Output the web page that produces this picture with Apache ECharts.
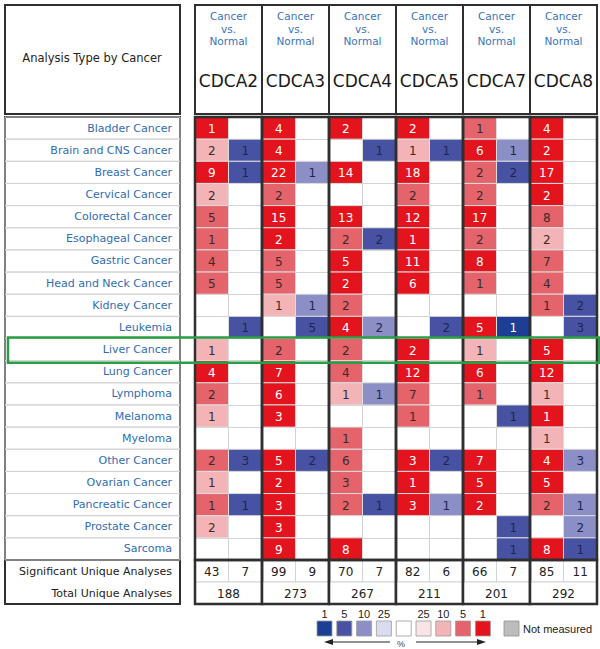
<!DOCTYPE html>
<html>
<head>
<meta charset="utf-8">
<script src="https://cdn.jsdelivr.net/npm/echarts@6/dist/echarts.min.js"></script>
<style>
html,body{margin:0;padding:0;background:#fff}
#chart{width:600px;height:649px}
</style>
</head>
<body>
<div id="chart"></div>
<script>
// rows and genes
const cancers = ['Bladder Cancer','Brain and CNS Cancer','Breast Cancer','Cervical Cancer','Colorectal Cancer',
    'Esophageal Cancer','Gastric Cancer','Head and Neck Cancer','Kidney Cancer','Leukemia','Liver Cancer',
    'Lung Cancer','Lymphoma','Melanoma','Myeloma','Other Cancer','Ovarian Cancer','Pancreatic Cancer',
    'Prostate Cancer','Sarcoma'];
const genes = ['CDCA2','CDCA3','CDCA4','CDCA5','CDCA7','CDCA8'];
const highlightRow = 'Liver Cancer';

// counts of analyses (up = over-expressed, down = under-expressed) and their gene rank percentile (1,5,10,25)
const cdca2Up      = [1,2,9,2,5,1,4,5,null,null,1,4,2,1,null,2,1,1,2,null];
const cdca2UpPct   = [1,10,1,10,5,5,5,5,null,null,10,1,5,10,null,5,10,5,10,null];
const cdca2Down    = [null,1,1,null,null,null,null,null,null,1,null,null,null,null,null,3,null,1,null,null];
const cdca2DownPct = [null,5,5,null,null,null,null,null,null,5,null,null,null,null,null,5,null,5,null,null];

const cdca3Up      = [4,4,22,2,15,2,5,5,1,null,2,7,6,3,null,5,2,3,3,9];
const cdca3UpPct   = [1,1,1,5,1,1,5,5,10,null,5,1,1,1,null,1,1,1,1,1];
const cdca3Down    = [null,null,1,null,null,null,null,null,1,5,null,null,null,null,null,2,null,null,null,null];
const cdca3DownPct = [null,null,10,null,null,null,null,null,10,5,null,null,null,null,null,5,null,null,null,null];

const cdca4Up      = [2,null,14,null,13,2,5,2,2,4,2,4,1,null,1,6,3,2,null,8];
const cdca4UpPct   = [1,null,1,null,1,5,1,1,5,1,5,5,10,null,5,5,5,5,null,1];
const cdca4Down    = [null,1,null,null,null,2,null,null,null,2,null,null,1,null,null,null,null,1,null,null];
const cdca4DownPct = [null,5,null,null,null,5,null,null,null,10,null,null,10,null,null,null,null,5,null,null];

const cdca5Up      = [2,1,18,2,12,1,11,6,null,null,2,12,7,1,null,3,1,3,null,null];
const cdca5UpPct   = [1,10,1,5,1,1,1,1,null,null,1,1,5,5,null,1,1,1,null,null];
const cdca5Down    = [null,1,null,null,null,null,null,null,null,2,null,null,null,null,null,2,null,1,null,null];
const cdca5DownPct = [null,5,null,null,null,null,null,null,null,5,null,null,null,null,null,5,null,10,null,null];

const cdca7Up      = [1,6,2,2,17,2,8,1,null,5,1,6,1,null,null,7,5,2,null,null];
const cdca7UpPct   = [5,1,5,5,1,5,1,5,null,1,10,1,5,null,null,1,1,1,null,null];
const cdca7Down    = [null,1,2,null,null,null,null,null,null,1,null,null,null,1,null,null,null,null,1,1];
const cdca7DownPct = [null,10,5,null,null,null,null,null,null,1,null,null,null,5,null,null,null,null,5,5];

const cdca8Up      = [4,2,17,2,8,2,7,4,1,null,5,12,1,1,1,4,5,2,null,8];
const cdca8UpPct   = [1,1,1,1,5,10,5,5,5,null,1,1,10,1,10,1,1,5,null,1];
const cdca8Down    = [null,null,null,null,null,null,null,null,2,3,null,null,null,null,null,3,null,1,2,1];
const cdca8DownPct = [null,null,null,null,null,null,null,null,5,5,null,null,null,null,null,10,null,10,10,5];

// summary rows
const summaryLabels = ['Significant Unique Analyses','Total Unique Analyses'];
const sigUp = [43,99,70,82,66,85];
const sigDown = [7,9,7,6,7,11];
const totalAnalyses = [188,273,267,211,201,292];

// legend
const legendBluePct = [1,5,10,25];
const legendRedPct = [25,10,5,1];

const upCounts = [cdca2Up,cdca3Up,cdca4Up,cdca5Up,cdca7Up,cdca8Up];
const upPcts = [cdca2UpPct,cdca3UpPct,cdca4UpPct,cdca5UpPct,cdca7UpPct,cdca8UpPct];
const downCounts = [cdca2Down,cdca3Down,cdca4Down,cdca5Down,cdca7Down,cdca8Down];
const downPcts = [cdca2DownPct,cdca3DownPct,cdca4DownPct,cdca5DownPct,cdca7DownPct,cdca8DownPct];

const redShades = {1:'#e3141d', 5:'#e5636a', 10:'#f3b4b8', 25:'#fbe4e5'};
const blueShades = {1:'#1c3f95', 5:'#4753a2', 10:'#8b8fc6', 25:'#d9dcef'};
const FONT = '"DejaVu Sans", Verdana, sans-serif';
const LEGEND_FONT = '"Liberation Sans", Arial, sans-serif';
const FRAME = '#2f2f2f';
const THIN = '#d3d3d3';

const subCols = [];
genes.forEach(g => { subCols.push(g + ' up'); subCols.push(g + ' down'); });

// heat cells
let cellData = [];
genes.forEach((g, gi) => {
    cancers.forEach((c, r) => {
        if (upCounts[gi][r] != null) cellData.push([2*gi, r, upCounts[gi][r], upPcts[gi][r]]);
        if (downCounts[gi][r] != null) cellData.push([2*gi+1, r, downCounts[gi][r], downPcts[gi][r]]);
    });
});

let sigData = [];
genes.forEach((g, gi) => {
    sigData.push([2*gi, 0, sigUp[gi]]);
    sigData.push([2*gi+1, 0, sigDown[gi]]);
});
let totalData = genes.map((g, gi) => [2*gi, 1, totalAnalyses[gi]]);

function cellRender(params, api){
    let col = api.value(0), row = api.value(1), count = api.value(2), pct = api.value(3);
    let c = api.coord([col, row]);
    let s = api.size([1, 1]);
    let isUp = col % 2 === 0;
    let fill = (isUp ? redShades : blueShades)[pct];
    let txt = pct === 1 ? '#ffffff' : (isUp ? '#3a2a2a' : '#1d2550');
    return {
        type: 'group',
        children: [
            {type:'rect', shape:{x:c[0]-s[0]/2, y:c[1]-s[1]/2, width:s[0], height:s[1]},
             style:{fill:fill, stroke:'#dcdcdc', lineWidth:1}},
            {type:'text', x:c[0], y:c[1]+1,
             style:{text:String(count), fill:txt, font:'12px ' + FONT, align:'center', verticalAlign:'middle'}}
        ]
    };
}

function geneFrameRender(params, api){
    let gi = params.dataIndex;
    let a = api.coord([2*gi, 0]);
    let s = api.size([1, 1]);
    let cs = params.coordSys;
    let left = a[0] - s[0]/2, w = 2*s[0], cx = left + w/2;
    let top = cs.y;
    return {
        type: 'group',
        children: [
            {type:'rect', shape:{x:left, y:5, width:w, height:top-8}, style:{fill:'none', stroke:FRAME, lineWidth:2}},
            {type:'rect', shape:{x:left, y:top, width:w, height:cs.height}, style:{fill:'none', stroke:FRAME, lineWidth:2.5}},
            {type:'text', x:cx, y:top-88.5, style:{text:'Cancer\nvs.\nNormal', fill:'#3a73bb', font:'10.5px ' + FONT,
                lineHeight:12.5, align:'center', verticalAlign:'middle'}},
            {type:'text', x:cx, y:top-36, style:{text:genes[gi], fill:'#1a1a1a', font:'17px ' + FONT, align:'center', verticalAlign:'middle'}}
        ]
    };
}

function labelRowRender(params, api){
    let c = api.coord([0, api.value(1)]);
    let s = api.size([1, 1]);
    let cs = params.coordSys;
    return {type:'rect', shape:{x:cs.x-190, y:c[1]-s[1]/2, width:175, height:s[1]},
            style:{fill:'none', stroke:THIN, lineWidth:1}};
}

function highlightRender(params, api){
    let c = api.coord([0, api.value(1)]);
    let s = api.size([1, 1]);
    let cs = params.coordSys;
    return {type:'rect', shape:{x:cs.x-187, y:c[1]-s[1]/2-1, width:cs.width+189, height:s[1]+3},
            style:{fill:'none', stroke:'#2a9d45', lineWidth:2.5}};
}

function sigRender(params, api){
    let c = api.coord([api.value(0), api.value(1)]);
    let s = api.size([1, 1]);
    return {
        type:'group',
        children:[
            {type:'rect', shape:{x:c[0]-s[0]/2, y:c[1]-s[1]/2, width:s[0], height:s[1]}, style:{fill:'#fff', stroke:THIN, lineWidth:1}},
            {type:'text', x:c[0], y:c[1]+1, style:{text:String(api.value(2)), fill:'#222', font:'12px ' + FONT, align:'center', verticalAlign:'middle'}}
        ]
    };
}

function totalRender(params, api){
    let c = api.coord([api.value(0), api.value(1)]);
    let s = api.size([1, 1]);
    let left = c[0] - s[0]/2;
    return {
        type:'group',
        children:[
            {type:'rect', shape:{x:left, y:c[1]-s[1]/2, width:2*s[0], height:s[1]}, style:{fill:'#fff', stroke:THIN, lineWidth:1}},
            {type:'rect', shape:{x:left, y:c[1]-s[1]*1.5, width:2*s[0], height:2*s[1]}, style:{fill:'none', stroke:FRAME, lineWidth:2.5}},
            {type:'text', x:left+s[0], y:c[1]+1, style:{text:String(api.value(2)), fill:'#222', font:'12px ' + FONT, align:'center', verticalAlign:'middle'}}
        ]
    };
}

// legend graphic
let legendEls = [];
let legendCols = legendBluePct.map(p => ({lab:String(p), col:blueShades[p]}))
    .concat([{lab:'', col:'#ffffff'}])
    .concat(legendRedPct.map(p => ({lab:String(p), col:redShades[p]})));
legendCols.forEach((d, i) => {
    let x = 317 + i*19.8;
    legendEls.push({type:'rect', shape:{x:x, y:621, width:15, height:15}, style:{fill:d.col, stroke:'#9a9a9a', lineWidth:0.8}});
    legendEls.push({type:'text', x:x+7.5, y:614, style:{text:d.lab, fill:'#222', font:'11px ' + LEGEND_FONT, align:'center', verticalAlign:'middle'}});
});
legendEls.push({type:'rect', shape:{x:504, y:621, width:15, height:15}, style:{fill:'#bcbcbc', stroke:'#8f8f8f', lineWidth:0.8}});
legendEls.push({type:'text', x:523, y:629, style:{text:'Not measured', fill:'#222', font:'11px ' + LEGEND_FONT, align:'left', verticalAlign:'middle'}});
legendEls.push({type:'line', shape:{x1:332, y1:642, x2:390, y2:642}, style:{stroke:'#222', lineWidth:1}});
legendEls.push({type:'polygon', shape:{points:[[324,642],[333,639],[333,645]]}, style:{fill:'#222'}});
legendEls.push({type:'text', x:401, y:644, style:{text:'%', fill:'#444', font:'9px ' + LEGEND_FONT, align:'center', verticalAlign:'middle'}});
legendEls.push({type:'line', shape:{x1:416, y1:642, x2:478, y2:642}, style:{stroke:'#222', lineWidth:1}});
legendEls.push({type:'polygon', shape:{points:[[486,642],[477,639],[477,645]]}, style:{fill:'#222'}});

const chart = echarts.init(document.getElementById('chart'), null, {renderer:'svg'});
const option = {
    animation: false,
    backgroundColor: '#ffffff',
    grid: [
        {left:195, top:117, width:402, height:443},
        {left:195, top:560, width:402, height:44}
    ],
    xAxis: [
        {gridIndex:0, type:'category', data:subCols, axisLine:{show:false}, axisTick:{show:false}, axisLabel:{show:false},
         splitLine:{show:true, interval:0, lineStyle:{color:THIN, width:1}}},
        {gridIndex:1, type:'category', data:subCols, show:false}
    ],
    yAxis: [
        {gridIndex:0, type:'category', data:cancers, inverse:true, axisLine:{show:false}, axisTick:{show:false},
         axisLabel:{interval:0, margin:23, color:'#2f6cb3', fontSize:11, fontFamily:FONT},
         splitLine:{show:true, interval:0, lineStyle:{color:THIN, width:1}}},
        {gridIndex:1, type:'category', data:summaryLabels, inverse:true, axisLine:{show:false}, axisTick:{show:false},
         axisLabel:{interval:0, margin:23, color:'#222', fontSize:11, fontFamily:FONT}}
    ],
    graphic: [
        {type:'rect', shape:{x:5, y:5, width:175, height:109}, style:{fill:'none', stroke:FRAME, lineWidth:2}},
        {type:'text', x:92, y:58, style:{text:'Analysis Type by Cancer', fill:'#222', font:'11.5px ' + FONT, align:'center', verticalAlign:'middle'}},
        {type:'rect', shape:{x:5, y:117, width:175, height:443}, style:{fill:'none', stroke:FRAME, lineWidth:2}},
        {type:'rect', shape:{x:5, y:560, width:175, height:44}, style:{fill:'none', stroke:FRAME, lineWidth:2}},
        {type:'group', children: legendEls}
    ],
    series: [
        {type:'custom', name:'rows', xAxisIndex:0, yAxisIndex:0, renderItem:labelRowRender, clip:false, silent:true,
         encode:{x:0, y:1}, data:cancers.map((c, i) => [0, i]), z:1},
        {type:'custom', name:'cells', xAxisIndex:0, yAxisIndex:0, renderItem:cellRender, silent:true,
         encode:{x:0, y:1}, data:cellData, z:2},
        {type:'custom', name:'genes', xAxisIndex:0, yAxisIndex:0, renderItem:geneFrameRender, clip:false, silent:true,
         encode:{x:0, y:1}, data:genes.map((g, i) => [2*i, 0]), z:3},
        {type:'custom', name:'highlight', xAxisIndex:0, yAxisIndex:0, renderItem:highlightRender, clip:false, silent:true,
         encode:{x:0, y:1}, data:[[0, cancers.indexOf(highlightRow)]], z:4},
        {type:'custom', name:'significant', xAxisIndex:1, yAxisIndex:1, renderItem:sigRender, clip:false, silent:true,
         encode:{x:0, y:1}, data:sigData, z:2},
        {type:'custom', name:'total', xAxisIndex:1, yAxisIndex:1, renderItem:totalRender, clip:false, silent:true,
         encode:{x:0, y:1}, data:totalData, z:3}
    ]
};
chart.setOption(option);
</script>
</body>
</html>
